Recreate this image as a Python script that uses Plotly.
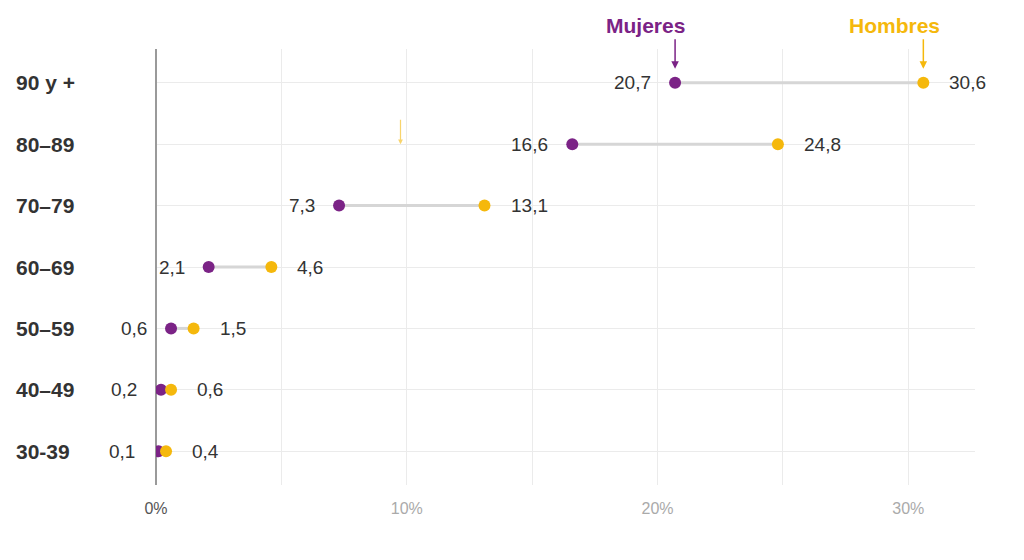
import plotly.graph_objects as go

grupos = ["30-39", "40–49", "50–59", "60–69", "70–79", "80–89", "90 y +"]
mujeres = [0.1, 0.2, 0.6, 2.1, 7.3, 16.6, 20.7]
hombres = [0.4, 0.6, 1.5, 4.6, 13.1, 24.8, 30.6]
tick_vals = [0, 5, 10, 15, 20, 25, 30]
tick_text = ["<span style='color:#555'>0%</span>", "", "10%", "", "20%", "", "30%"]

PURPLE = "#7b2386"
YELLOW = "#f5b80c"
FONT = "Liberation Sans, Arial, sans-serif"

def fmt(v):
    return f"{v:.1f}".replace(".", ",")

yidx = list(range(len(grupos)))
fig = go.Figure()

# connecting lines
for i in yidx:
    fig.add_trace(go.Scatter(x=[mujeres[i], hombres[i]], y=[i, i], mode="lines",
                             line=dict(color="#d6d6d6", width=3), showlegend=False,
                             hoverinfo="skip"))

fig.add_trace(go.Scatter(x=mujeres, y=yidx, mode="markers", name="Mujeres",
                         marker=dict(color=PURPLE, size=12), showlegend=False))
fig.add_trace(go.Scatter(x=hombres, y=yidx, mode="markers", name="Hombres",
                         marker=dict(color=YELLOW, size=12), showlegend=False))

ann = []
for i in yidx:
    ann.append(dict(x=mujeres[i], y=i, text=fmt(mujeres[i]), showarrow=False,
                    xanchor="right", xshift=-22, font=dict(size=19, color="#333", family=FONT)))
    ann.append(dict(x=hombres[i], y=i, text=fmt(hombres[i]), showarrow=False,
                    xanchor="left", xshift=24, font=dict(size=19, color="#333", family=FONT)))
    ann.append(dict(xref="paper", x=(14 - 156) / 819, y=i, text=f"<b>{grupos[i]}</b>",
                    showarrow=False, xanchor="left",
                    font=dict(size=21, color="#333", family=FONT)))

top = len(grupos) - 1
# header labels + arrows
ann.append(dict(x=mujeres[top], y=top, text="<b>Mujeres</b>", showarrow=False,
                yshift=57, xshift=-30, font=dict(size=21, color=PURPLE, family=FONT)))
ann.append(dict(x=hombres[top], y=top, text="<b>Hombres</b>", showarrow=False,
                yshift=57, xshift=-29, font=dict(size=21, color=YELLOW, family=FONT)))
ann.append(dict(x=mujeres[top], y=top, text="", showarrow=True, ax=0, ay=-45,
                standoff=14, arrowhead=2, arrowsize=1, arrowwidth=1.5, arrowcolor=PURPLE))
ann.append(dict(x=hombres[top], y=top, text="", showarrow=True, ax=0, ay=-45,
                standoff=14, arrowhead=2, arrowsize=1, arrowwidth=1.5, arrowcolor=YELLOW))
# stray small arrow in 80-89 row
ann.append(dict(x=9.75, y=5, text="", showarrow=True, ax=0, ay=-26,
                standoff=0, arrowhead=2, arrowsize=0.8, arrowwidth=1.2,
                arrowcolor="rgba(245,184,12,0.6)"))

fig.update_layout(
    width=1024, height=560,
    margin=dict(l=156, r=49, t=49, b=75),
    plot_bgcolor="white", paper_bgcolor="white",
    annotations=ann,
    font=dict(family=FONT),
    xaxis=dict(range=[0, 32.66], tickvals=tick_vals, ticktext=tick_text,
               showgrid=True, gridcolor="#ebebeb", gridwidth=1,
               zeroline=True, zerolinecolor="#9a9a9a", zerolinewidth=2,
               showline=False, ticks="", ticklabelstandoff=12,
               tickfont=dict(size=16, color="#aaaaaa", family=FONT), fixedrange=True),
    yaxis=dict(range=[-0.55, 6.55], tickvals=yidx, showticklabels=False,
               showgrid=True, gridcolor="#ebebeb", zeroline=False, showline=False,
               fixedrange=True),
)

fig.write_html("out.html")
